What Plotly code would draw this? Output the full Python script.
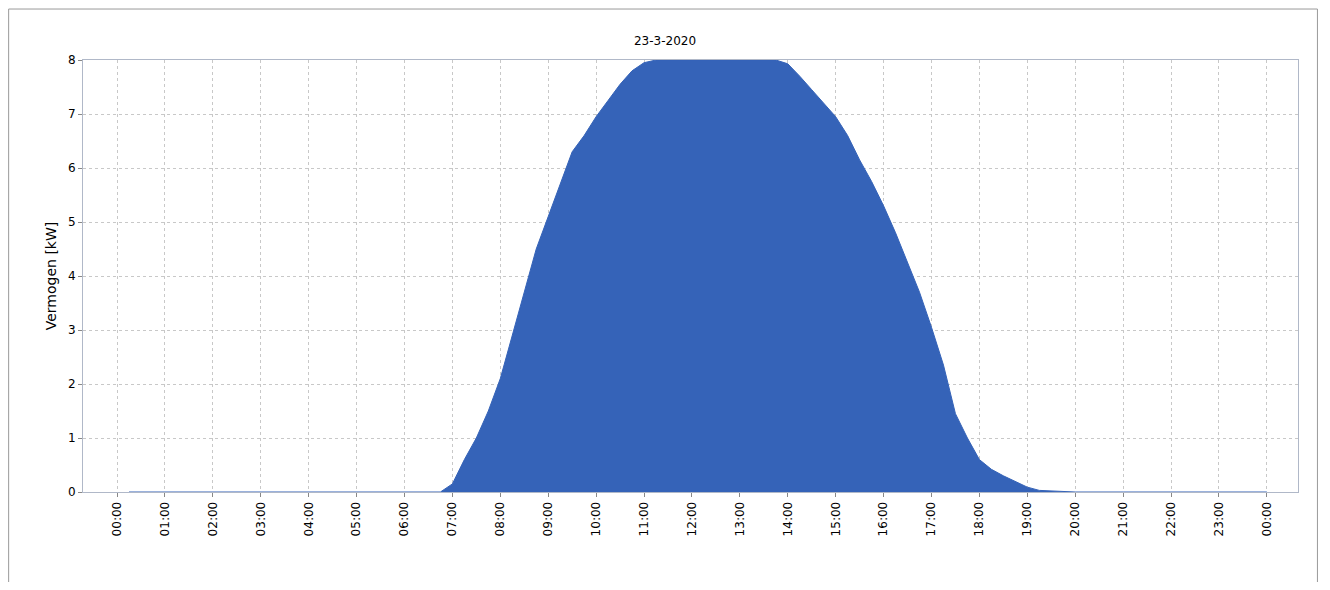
import plotly.graph_objects as go

# uren (decimaal) en vermogen in kW
hours = [0.25, 1, 2, 3, 4, 5, 6, 6.75, 7.0, 7.25, 7.5, 7.75, 8.0, 8.25, 8.5, 8.75, 9.0,
         9.25, 9.5, 9.75, 10.0, 10.25, 10.5, 10.75, 11.0, 11.25, 11.5, 12.0, 12.5, 13.0,
         13.5, 13.75, 14.0, 14.25, 14.5, 14.75, 15.0, 15.25, 15.5, 15.75, 16.0, 16.25,
         16.5, 16.75, 17.0, 17.25, 17.5, 17.75, 18.0, 18.25, 18.5, 18.75, 19.0, 19.25,
         20, 21, 22, 23, 24]
power = [0, 0, 0, 0, 0, 0, 0, 0, 0.15, 0.6, 1.0, 1.5, 2.1, 2.9, 3.7, 4.5, 5.1,
         5.7, 6.3, 6.6, 6.95, 7.25, 7.55, 7.8, 7.95, 8.0, 8.0, 8.0, 8.0, 8.0,
         8.0, 8.0, 7.93, 7.7, 7.45, 7.2, 6.95, 6.6, 6.15, 5.75, 5.3, 4.8,
         4.25, 3.7, 3.05, 2.35, 1.45, 1.0, 0.6, 0.42, 0.3, 0.2, 0.09, 0.03,
         0, 0, 0, 0, 0]
tick_vals = list(range(25))
tick_text = [f"{h % 24:02d}:00" for h in tick_vals]

fig = go.Figure(go.Scatter(
    x=hours, y=power, mode="lines", fill="tozeroy",
    line=dict(color="#3563B8", width=1), fillcolor="#3563B8",
))

fig.update_layout(
    width=1314, height=574,
    margin=dict(l=75, r=24, t=52, b=90),
    paper_bgcolor="white", plot_bgcolor="white",
    font=dict(family="DejaVu Sans", size=12, color="black"),
    title=dict(text="23-3-2020", x=0.5, y=0.95, xanchor="center", font=dict(size=12)),
    showlegend=False,
    xaxis=dict(
        range=[-0.71, 24.65], tickvals=tick_vals, ticktext=tick_text,
        tickangle=-90, showgrid=True, gridcolor="#c8c8c8", griddash="dot",
        showline=True, linecolor="#b0b8c8", mirror=True,
        ticks="outside", ticklen=4, tickcolor="#888", zeroline=False,
    ),
    yaxis=dict(
        range=[0, 8], dtick=1, showgrid=True, gridcolor="#c8c8c8", griddash="dot",
        showline=True, linecolor="#b0b8c8", mirror=True,
        ticks="outside", ticklen=4, tickcolor="#888", zeroline=False,
        title=dict(text="Vermogen [kW]", standoff=8),
    ),
    shapes=[dict(type="rect", xref="paper", yref="paper",
                 x0=-0.0612, x1=1.016, y0=-0.3, y1=1.118,
                 line=dict(color="#999", width=1), layer="below")],
)

fig.write_html("out.html")
